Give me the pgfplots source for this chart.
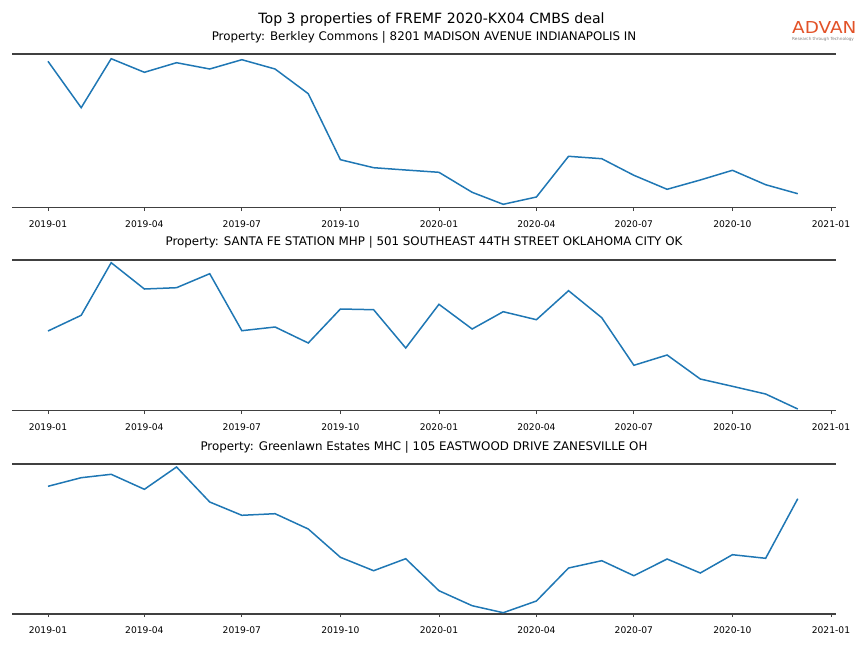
\documentclass[border=0pt]{standalone}
\usepackage{fontspec}
\setmainfont{DejaVu Sans}
\usepackage{pgfplots}
\pgfplotsset{compat=1.18}

\definecolor{spine}{RGB}{64,64,64}
\definecolor{lineblue}{HTML}{1F77B4}
\definecolor{advan}{RGB}{226,82,40}

% x = days since 2019-01-01, one point per month
\pgfplotsset{panel/.style={
    scale only axis, width=824bp, anchor=south west,
    xmin=-33.6, xmax=735.7, ymin=0,
    separate axis lines,
    every outer y axis line/.append style={draw=none},
    every outer x axis line/.append style={draw=spine, line width=1.6bp},
    ytick=\empty,
    xtick={0,90,181,273,365,456,547,639,731},
    xticklabels={2019-01,2019-04,2019-07,2019-10,2020-01,2020-04,2020-07,2020-10,2021-01},
    tick pos=left, xtick align=outside,
    major tick length=3.5bp,
    tick style={spine, line width=0.8bp},
    xticklabel style={font=\fontsize{9.2}{11}\selectfont, inner sep=1.5bp, yshift=-8bp},
    title style={at={(0.5,1)}, anchor=base, yshift=8bp, font=\fontsize{11.9}{14}\selectfont},
}}

\begin{document}
\begin{tikzpicture}
\path[use as bounding box] (0,0) rectangle (864bp,-648bp);

\node[anchor=base, font=\fontsize{14.2}{17}\selectfont] at (431.5bp,-23.5bp)
  {Top 3 properties of FREMF 2020-KX04 CMBS deal};

\node[anchor=base west, text=advan, font=\fontsize{16.5}{17}\selectfont, xscale=1.12, inner sep=0pt]
  at (792bp,-33bp) {ADVAN};
\node[anchor=base west, text=gray, font=\fontsize{4.2}{5}\selectfont, inner sep=0pt]
  at (792bp,-40.5bp) {Research through Technology};

\begin{axis}[panel, at={(12bp,-207.5bp)}, height=153.5bp, ymax=153.5,
  title={Property: Berkley Commons | 8201 MADISON AVENUE INDIANAPOLIS IN}]
\addplot[lineblue, line width=1.5bp] coordinates {
  (0,146.2) (31,99.8) (59,148.8) (90,135.2) (120,144.8) (151,138.5)
  (181,147.8) (212,138.5) (243,113.8) (273,47.8) (304,39.8) (334,37.5)
  (365,35.2) (396,15.2) (425,3.2) (456,10.5) (486,51.2) (517,48.8)
  (547,32.2) (578,18.2) (609,27.5) (639,37.2) (670,22.8) (700,13.8)
};
\end{axis}

\begin{axis}[panel, at={(12bp,-410.5bp)}, height=150.8bp, ymax=150.8,
  title={Property: SANTA FE STATION MHP | 501 SOUTHEAST 44TH STREET OKLAHOMA CITY OK}]
\addplot[lineblue, line width=1.5bp] coordinates {
  (0,79.5) (31,95.2) (59,147.8) (90,121.5) (120,122.8) (151,136.8)
  (181,79.8) (212,83.5) (243,67.5) (273,101.5) (304,100.8) (334,62.5)
  (365,106.2) (396,81.5) (425,98.8) (456,90.8) (486,119.8) (517,92.8)
  (547,45.2) (578,55.5) (609,31.5) (639,24.2) (670,16.5) (700,1.5)
};
\end{axis}

\begin{axis}[panel, at={(12bp,-613.7bp)}, height=149.7bp, ymax=149.7,
  title={Property: Greenlawn Estates MHC | 105 EASTWOOD DRIVE ZANESVILLE OH}]
\addplot[lineblue, line width=1.5bp] coordinates {
  (0,127.4) (31,136.0) (59,139.4) (90,124.4) (120,146.7) (151,111.7)
  (181,98.4) (212,100.0) (243,84.7) (273,56.4) (304,43.0) (334,55.0)
  (365,23.0) (396,8.0) (425,1.0) (456,12.7) (486,45.7) (517,53.0)
  (547,38.0) (578,54.7) (609,40.7) (639,59.0) (670,55.4) (700,115.0)
};
\end{axis}
\end{tikzpicture}
\end{document}
